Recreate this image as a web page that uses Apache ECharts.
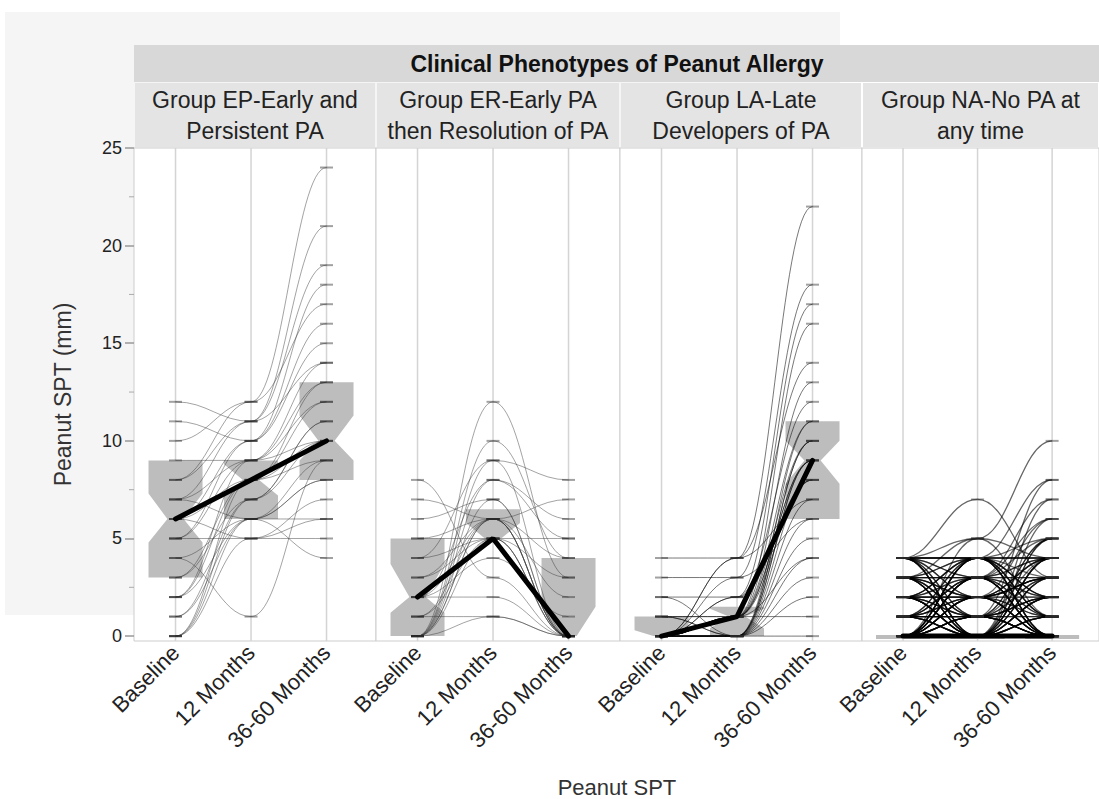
<!DOCTYPE html>
<html><head><meta charset="utf-8">
<script src="https://cdn.jsdelivr.net/npm/echarts@6/dist/echarts.min.js"></script>
<style>html,body{margin:0;padding:0;background:#fff}#c{width:1099px;height:799px}</style>
</head><body><div id="c"></div>
<script>
// ---------------- data ----------------
const timepoints = ['Baseline', '12 Months', '36-60 Months'];
const stripTitle = 'Clinical Phenotypes of Peanut Allergy';
const groupLine1 = ['Group EP-Early and', 'Group ER-Early PA', 'Group LA-Late', 'Group NA-No PA at'];
const groupLine2 = ['Persistent PA', 'then Resolution of PA', 'Developers of PA', 'any time'];
const yTitle = 'Peanut SPT (mm)';
const xTitle = 'Peanut SPT';
const yTicks = [0, 5, 10, 15, 20, 25];
const yMinorTicks = [2.5, 7.5, 12.5, 17.5, 22.5];

// individual subjects: [Baseline, 12 Months, 36-60 Months]
const subjectsEP = [
  [0,6,8],[0,7,10],[0,8,9],[0,5,7],[1,6,9],[1,7,11],[2,6,6],[2,8,10],[2,9,12],[3,7,11],
  [3,8,13],[4,1,9],[4,6,8],[5,5,6],[5,9,14],[5,10,15],[6,8,12],[6,10,16],[6,5,5],[7,9,10],
  [7,11,19],[7,6,4],[8,12,24],[8,11,21],[9,9,13],[10,12,17],[11,10,18],[12,11,14]
];
const subjectsER = [
  [0,12,3],[0,10,4],[0,9,0],[0,8,6],[0,7,0],[0,6,0],[0,6,2],[0,5,0],[0,1,0],[1,6,0],
  [1,5,0],[1,1,0],[2,8,5],[2,6,0],[2,4,1],[2,2,0],[3,6,7],[3,5,0],[4,9,8],[4,5,3],
  [5,6,0],[5,5,5],[6,7,0],[7,6,4],[8,3,0]
];
const subjectsLA = [
  [0,0,9],[0,0,10],[0,0,6],[0,1,9],[0,1,11],[0,1,8],[0,0,7],[0,2,12],[0,3,18],[0,4,22],
  [0,1,13],[0,0,5],[0,0,3],[1,1,9],[1,0,10],[0,1,16],[0,2,17],[0,0,2],[0,0,0],[2,2,8],
  [3,3,6],[4,4,7],[0,1,4],[1,0,11],[0,0,9],[0,4,14],[2,0,4],[0,1,1],[0,0,8],[1,1,10]
];
const subjectsNA = [
  [4,7,3],[4,5,4],[3,5,10],[2,4,8],[1,3,7],[0,2,6],[4,4,5],[3,3,4],[2,2,3],[1,1,2],
  [0,0,1],[0,4,0],[4,0,0],[3,0,4],[0,3,0],[2,0,2],[0,2,0],[1,0,0],[0,1,0],[0,0,0],
  [0,0,0],[0,0,2],[0,0,3],[0,0,4],[0,0,5],[1,0,1],[2,0,0],[3,0,0],[0,4,1],[4,2,0],
  [3,1,0],[2,3,1],[1,4,2],[0,3,5],[0,2,4],[0,1,3],[1,2,0],[2,1,0],[3,2,1],[4,3,2],
  [4,1,0],[3,4,0],[2,2,0],[1,1,0],[0,0,6],[0,1,5],[1,0,4],[2,4,0],[0,4,4],[4,0,4],
  [3,3,0],[0,3,3],[1,2,3],[2,1,2],[0,5,1],[4,4,0],
  [0,0,0],[0,0,0],[0,0,0],[0,0,0],[1,1,1],[2,2,2],[3,3,3],[4,4,4],[1,0,0],[0,1,0],
  [2,0,1],[0,2,1],[3,0,2],[0,3,2],[4,0,3],[0,4,3],[1,3,0],[3,1,2],[2,4,1],[4,2,3],
  [0,2,2],[2,0,3],[1,4,4],[4,1,1],[3,2,0],[2,3,0],[1,2,4],[0,0,7],[0,1,8],[1,3,6],
  [2,0,5],[3,1,5],[0,4,2],[4,3,0],[1,1,3],[3,0,1],[0,3,1],[2,2,4],[4,4,1],[1,0,2],
  [0,2,3],[3,4,2],[2,1,4],[0,0,2],[1,1,0],[0,1,2],[2,0,0],[4,0,1],[0,3,4],[3,2,3]
];

// medians per timepoint
const mediansEP = [6, 8, 10];
const mediansER = [2, 5, 0];
const mediansLA = [0, 1, 9];
const mediansNA = [0, 0, 0];

// notched boxes per timepoint: [Q1, notch low, median, notch high, Q3]
const boxesEP = [[3, 4.8, 6, 7.3, 9], [6, 7.2, 8, 8.8, 9], [8, 9, 10, 11.3, 13]];
const boxesER = [[0, 1.2, 2, 3.7, 5], [5, 5, 5, 5.8, 6.5], [0, 0, 0, 1.5, 4]];
const boxesLA = [[0, 0, 0, 0.3, 1], [0, 0.4, 1, 1.4, 1.5], [6, 7.8, 9, 10, 11]];
const boxesNA = [[0, 0, 0, 0, 0], [0, 0, 0, 0, 0], [0, 0, 0, 0, 0]];

// ---------------- layout ----------------
const FONT = '"Liberation Sans", Arial, sans-serif';
const CAT_X = [0.55, 1.55, 2.55];
const PX_PER_UNIT = 75.5;
const GRID_LEFT = [134, 376, 620, 862];
const GRID_W = [242, 244, 242, 240];
const GRID_TOP = 148, GRID_H = 493;
const Y_MIN = -0.25, Y_MAX = 25;
const BOX_FILL = '#bdbdbd';

const panels = [
  { subjects: subjectsEP, medians: mediansEP, boxes: boxesEP, color: 'rgba(50,50,50,0.45)', width: 1 },
  { subjects: subjectsER, medians: mediansER, boxes: boxesER, color: 'rgba(50,50,50,0.45)', width: 1 },
  { subjects: subjectsLA, medians: mediansLA, boxes: boxesLA, color: 'rgba(10,10,10,0.55)', width: 1 },
  { subjects: subjectsNA, medians: mediansNA, boxes: boxesNA, color: 'rgba(0,0,0,0.6)', width: 1.3 }
];

const grids = GRID_LEFT.map((l, g) => ({
  left: l, top: GRID_TOP, width: GRID_W[g], height: GRID_H,
  show: true, backgroundColor: '#fff', borderColor: '#cdcdcd', borderWidth: 1
}));

const xAxes = GRID_LEFT.map((l, g) => ({
  type: 'value', gridIndex: g, min: 0, max: GRID_W[g] / PX_PER_UNIT,
  axisLine: { show: false }, axisTick: { show: false }, splitLine: { show: false },
  axisLabel: {
    customValues: CAT_X, rotate: 45, margin: 8, fontSize: 22, fontFamily: FONT, color: '#222',
    formatter: v => timepoints[Math.round(v - CAT_X[0])]
  }
}));

const yAxes = [
  {
    type: 'value', gridIndex: 0, position: 'left', min: Y_MIN, max: Y_MAX,
    axisLine: { show: false }, splitLine: { show: false },
    axisTick: { show: true, customValues: yTicks, length: 9, lineStyle: { color: '#999', width: 1.5 } },
    axisLabel: { customValues: yTicks, fontSize: 18, fontFamily: FONT, color: '#222', margin: 12 },
    name: yTitle, nameLocation: 'middle', nameGap: 60,
    nameTextStyle: { fontSize: 23, fontFamily: FONT, color: '#333' }
  },
  ...[1, 2, 3].map(g => ({
    type: 'value', gridIndex: g, min: Y_MIN, max: Y_MAX, show: false
  }))
];
const Y_IDX = [0, 1, 2, 3];

function vlineItem(params, api) {
  const x = api.value(0);
  const p1 = api.coord([x, Y_MAX]);
  const p2 = api.coord([x, Y_MIN]);
  return { type: 'line', shape: { x1: p1[0], y1: p1[1], x2: p2[0], y2: p2[1] },
           style: { stroke: '#d4d4d4', lineWidth: 1.5 } };
}

function minorTickItem(params, api) {
  const p = api.coord([0, api.value(1)]);
  return { type: 'line', shape: { x1: p[0] - 5, y1: p[1], x2: p[0], y2: p[1] },
           style: { stroke: '#aaa', lineWidth: 1 } };
}

function boxItem(params, api) {
  const x = api.value(0);
  const q1 = api.value(1), nlo = api.value(2), med = api.value(3), nhi = api.value(4), q3 = api.value(5);
  const c = v => api.coord([x, v]);
  const hw = 27, nw = hw * 0.3;
  const cx = c(q1)[0];
  if (q3 - q1 < 0.01) {
    return { type: 'rect', shape: { x: cx - hw, y: c(q1)[1] - 1, width: 2 * hw, height: 4 }, style: { fill: BOX_FILL } };
  }
  const y3 = c(q3)[1], yh = c(nhi)[1], ym = c(med)[1], yl = c(nlo)[1], y1 = c(q1)[1];
  const pts = [
    [cx - hw, y3], [cx + hw, y3], [cx + hw, yh], [cx + nw, ym], [cx + hw, yl], [cx + hw, y1],
    [cx - hw, y1], [cx - hw, yl], [cx - nw, ym], [cx - hw, yh]
  ];
  return { type: 'polygon', shape: { points: pts }, style: { fill: BOX_FILL } };
}

// subject curve: smooth segments with flat tangents at each visit
function makeCurveItem(color, width) {
  return function (params, api) {
    const pts = CAT_X.map((x, i) => api.coord([x, api.value(i + 1)]));
    const children = [];
    for (let i = 0; i < pts.length - 1; i++) {
      const a = pts[i], b = pts[i + 1], d = (b[0] - a[0]) * 0.42;
      children.push({ type: 'bezierCurve',
        shape: { x1: a[0], y1: a[1], x2: b[0], y2: b[1], cpx1: a[0] + d, cpy1: a[1], cpx2: b[0] - d, cpy2: b[1] },
        style: { stroke: color, lineWidth: width, fill: null } });
    }
    return { type: 'group', children };
  };
}

const series = [];
series.push({ type: 'custom', xAxisIndex: 0, yAxisIndex: 0, z: 6, silent: true, clip: false,
  data: yMinorTicks.map(v => [0, v]), renderItem: minorTickItem });
panels.forEach((p, g) => {
  const xi = g, yi = Y_IDX[g];
  series.push({ type: 'custom', xAxisIndex: xi, yAxisIndex: yi, z: 1, silent: true,
    data: CAT_X.map(x => [x, Y_MAX]), renderItem: vlineItem });
  series.push({ type: 'custom', xAxisIndex: xi, yAxisIndex: yi, z: 2, silent: true,
    data: p.boxes.map((b, i) => [CAT_X[i], ...b]), renderItem: boxItem });
  series.push({ type: 'custom', xAxisIndex: xi, yAxisIndex: yi, z: 3, silent: true,
    encode: { x: 0, y: [1, 2, 3] },
    data: p.subjects.map(s => [CAT_X[1], ...s]), renderItem: makeCurveItem(p.color, p.width) });
  const dashes = [];
  p.subjects.forEach(s => s.forEach((v, i) => dashes.push([CAT_X[i], v])));
  series.push({ type: 'scatter', xAxisIndex: xi, yAxisIndex: yi, z: 4, silent: true,
    data: dashes, symbol: 'rect', symbolSize: [13, 2], itemStyle: { color: 'rgba(40,40,40,0.55)' } });
  series.push({ type: 'line', xAxisIndex: xi, yAxisIndex: yi, z: 5, silent: true,
    data: p.medians.map((v, i) => [CAT_X[i], v]), showSymbol: false, symbol: 'none',
    lineStyle: { width: 5, color: '#000', cap: 'round' } });
});

const graphics = [
  { type: 'rect', z: -10, shape: { x: 5, y: 12, width: 835, height: 603 }, style: { fill: '#f5f5f5' } },
  { type: 'rect', z: 50, shape: { x: 134, y: 45, width: 965, height: 37 }, style: { fill: '#d8d8d8' } },
  { type: 'text', z: 51, style: { text: stripTitle, x: 617, y: 64, align: 'center', verticalAlign: 'middle',
      font: 'bold 23px ' + FONT, fill: '#111' } },
  { type: 'text', z: 51, style: { text: xTitle, x: 617, y: 787, align: 'center', verticalAlign: 'middle',
      font: '22px ' + FONT, fill: '#333' } }
];
GRID_LEFT.forEach((l, g) => {
  const w = Math.min(GRID_W[g], 1099 - l);
  graphics.push({ type: 'rect', z: 50, shape: { x: l + 1, y: 83, width: w - 2, height: 64 }, style: { fill: '#e4e4e4' } });
  graphics.push({ type: 'text', z: 51, style: { text: groupLine1[g], x: l + w / 2, y: 100, align: 'center',
    verticalAlign: 'middle', font: '23px ' + FONT, fill: '#222' } });
  graphics.push({ type: 'text', z: 51, style: { text: groupLine2[g], x: l + w / 2, y: 131, align: 'center',
    verticalAlign: 'middle', font: '23px ' + FONT, fill: '#222' } });
});

const chart = echarts.init(document.getElementById('c'), null, { renderer: 'svg' });
chart.setOption({
  animation: false,
  backgroundColor: '#fff',
  grid: grids,
  xAxis: xAxes,
  yAxis: yAxes,
  series: series,
  graphic: { elements: graphics }
});
</script>
</body></html>
